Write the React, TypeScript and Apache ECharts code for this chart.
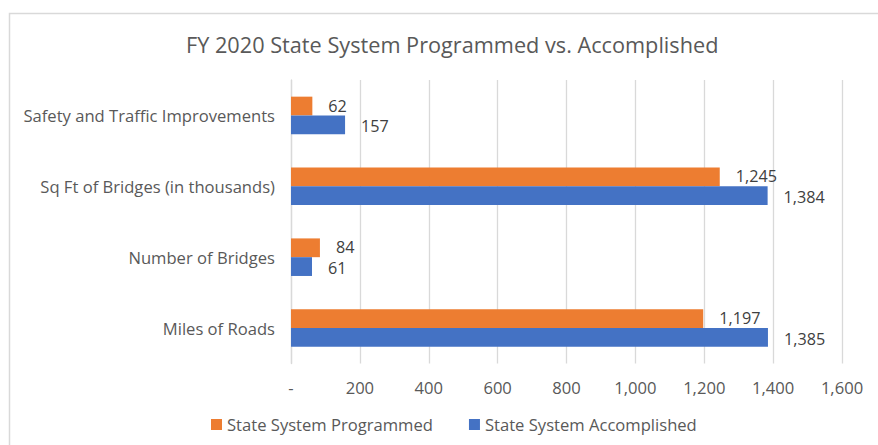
import React, { useEffect, useRef } from "react";
import * as echarts from "echarts";

const categories = [
  "Miles of Roads",
  "Number of Bridges",
  "Sq Ft of Bridges (in thousands)",
  "Safety and Traffic Improvements",
];
const programmed = [1197, 84, 1245, 62];
const accomplished = [1385, 61, 1384, 157];
const seriesNames = ["State System Programmed", "State System Accomplished"];
const xTicks = { min: 0, max: 1600, interval: 200 };

const FONT = "'Open Sans', 'Noto Sans', sans-serif";
const FS = 16.6;
const fmt = (v: number) => (v === 0 ? "-" : v.toLocaleString("en-US"));

export default function App() {
  const ref = useRef<HTMLDivElement>(null);
  useEffect(() => {
    const chart = echarts.init(ref.current!, undefined, { renderer: "svg" });
    const mkLabel = (dy: number) => ({
      show: true,
      position: "right",
      distance: 16,
      offset: [0, dy],
      formatter: (p: any) => fmt(p.value),
      fontFamily: FONT,
      fontSize: 16.2,
      lineHeight: 16,
      color: "#404040",
    });
    chart.setOption({
      animation: false,
      textStyle: { fontFamily: FONT },
      title: {
        text: "FY 2020 State System Programmed vs. Accomplished",
        left: 181,
        top: 28,
        textStyle: { fontFamily: FONT, fontSize: 21.7, fontWeight: "normal", color: "#595959" },
      },
      graphic: [
        {
          type: "rect",
          shape: { x: 9.5, y: 13.5, width: 900, height: 500 },
          style: { fill: "none", stroke: "#d9d9d9", lineWidth: 1.5 },
          silent: true,
        },
      ],
      legend: {
        bottom: 7,
        left: 206,
        icon: "rect",
        itemWidth: 11,
        itemHeight: 11,
        itemGap: 36,
        data: seriesNames,
        textStyle: { fontFamily: FONT, fontSize: FS, color: "#595959" },
      },
      grid: { left: 291, right: 36, top: 80, bottom: 81.5, containLabel: false },
      xAxis: {
        type: "value",
        min: xTicks.min,
        max: xTicks.max,
        interval: xTicks.interval,
        axisLine: { show: false },
        axisTick: { show: false },
        axisLabel: {
          formatter: (v: number) => fmt(v),
          fontFamily: FONT,
          fontSize: FS,
          color: "#595959",
          margin: 15,
        },
        splitLine: { show: true, lineStyle: { color: "#d9d9d9", width: 1.3 } },
      },
      yAxis: {
        type: "category",
        data: categories,
        axisTick: { show: false },
        axisLine: { show: true, lineStyle: { color: "#d9d9d9", width: 1.3 } },
        axisLabel: { fontFamily: FONT, fontSize: FS, color: "#595959", margin: 16 },
      },
      series: [
        {
          name: seriesNames[0],
          type: "bar",
          data: programmed,
          barGap: "0%",
          barCategoryGap: "47%",
          itemStyle: { color: "#ED7D31" },
          label: mkLabel(-0.5),
        },
        {
          name: seriesNames[1],
          type: "bar",
          data: accomplished,
          barGap: "0%",
          barCategoryGap: "47%",
          itemStyle: { color: "#4472C4" },
          label: mkLabel(1.5),
        },
      ],
    });
    return () => chart.dispose();
  }, []);
  return (
    <div
      ref={ref}
      style={{ position: "fixed", left: 0, top: 0, width: 878, height: 445, background: "#fff" }}
    />
  );
}
